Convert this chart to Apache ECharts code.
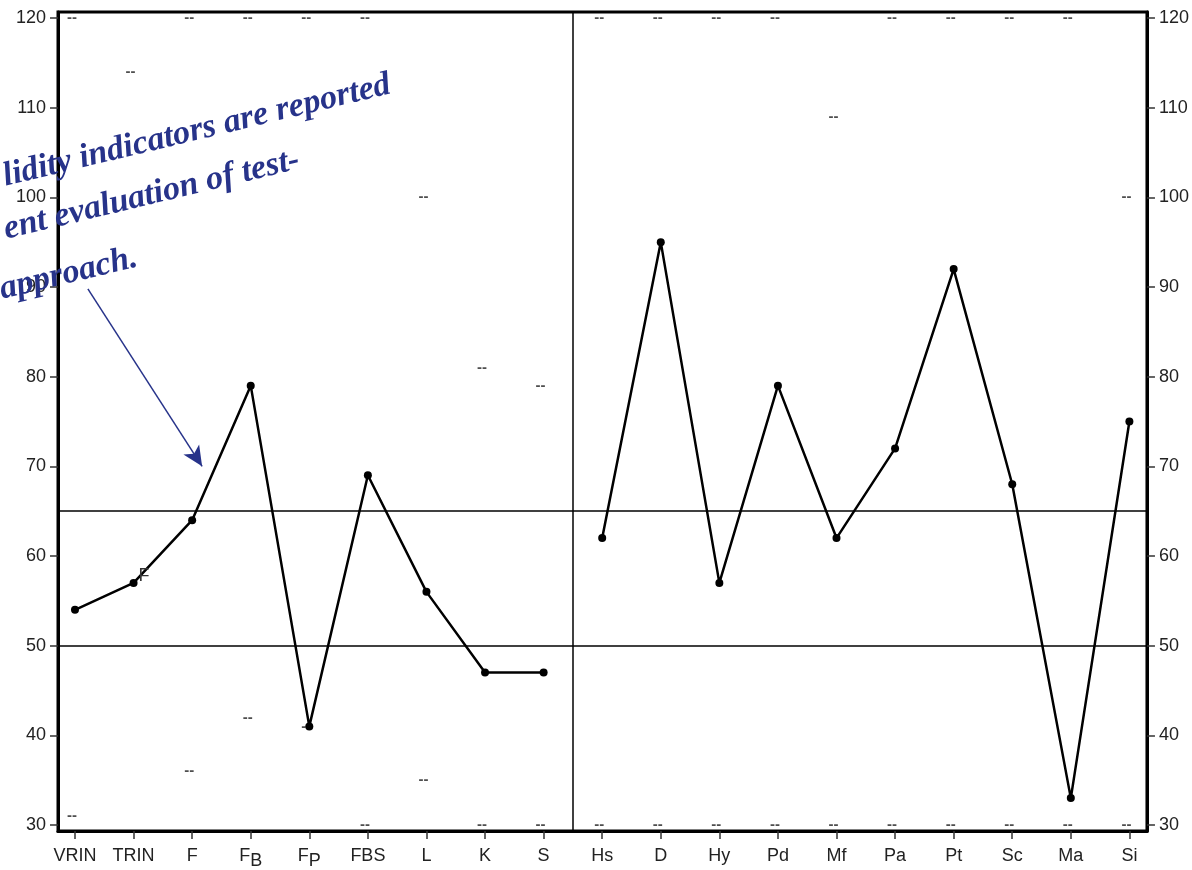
<!DOCTYPE html>
<html><head><meta charset="utf-8">
<script src="https://cdn.jsdelivr.net/npm/echarts@6/dist/echarts.min.js"></script>
<style>html,body{margin:0;padding:0;background:#fff}#c{width:1192px;height:870px}</style>
</head><body><div id="c"></div>
<script>
// ---- data ----
const categories = ['VRIN','TRIN','F','FB','FP','FBS','L','K','S','Hs','D','Hy','Pd','Mf','Pa','Pt','Sc','Ma','Si'];
const subscriptLabels = { FB: ['F','B'], FP: ['F','P'] };
const validityScales = ['VRIN','TRIN','F','FB','FP','FBS','L','K','S'];
const validityScores = [54, 57, 64, 79, 41, 69, 56, 47, 47];
const clinicalScales = ['Hs','D','Hy','Pd','Mf','Pa','Pt','Sc','Ma','Si'];
const clinicalScores = [62, 95, 57, 79, 62, 72, 92, 68, 33, 75];
const maxMarks = [120, 114, 120, 120, 120, 120, 100, 81, 79, 120, 120, 120, 120, 109, 120, 120, 120, 120, 100];
const minMarks = [31, null, 36, 42, 41, 30, 35, 30, 30, 30, 30, 30, 30, 30, 30, 30, 30, 30, 30];
const yTicks = [30, 40, 50, 60, 70, 80, 90, 100, 110, 120];
const referenceLines = [50, 65];
const trinDirection = 'F';
const noteLines = ['lidity indicators are reported', 'ent evaluation of test-', 'approach.'];

// ---- build ----
const idx = name => categories.indexOf(name);
const validityData = validityScales.map((s, i) => {
  const d = { value: [idx(s), validityScores[i]] };
  if (s === 'TRIN') d.label = { show: true, formatter: trinDirection, position: 'right', offset: [-4, -7], color: '#333', fontSize: 18, fontFamily: 'Liberation Sans' };
  return d;
});
const clinicalData = clinicalScales.map((s, i) => [idx(s), clinicalScores[i]]);
const dashData = [];
categories.forEach((c, i) => {
  if (maxMarks[i] != null) dashData.push([i, maxMarks[i]]);
  if (minMarks[i] != null) dashData.push([i, minMarks[i]]);
});
const catIndices = categories.map((c, i) => i);

const chart = echarts.init(document.getElementById('c'), null, { renderer: 'canvas' });
const font = 'Liberation Sans';
const yAxisCommon = {
  type: 'value', min: 29.333, max: 120.667,
  splitLine: { show: false },
  axisLine: { show: true, onZero: false, lineStyle: { color: '#000', width: 3 } },
  axisTick: { show: true, length: 8, lineStyle: { color: '#333', width: 1.5 }, customValues: yTicks },
  axisLabel: { customValues: yTicks, color: '#222', fontSize: 18, fontFamily: font, margin: 12 }
};
const option = {
  animation: false,
  backgroundColor: '#fff',
  grid: { left: 58, right: 45, top: 12, bottom: 36, show: true, borderColor: '#000', borderWidth: 3 },
  xAxis: {
    type: 'value', min: -0.29, max: 18.3,
    splitLine: { show: false },
    axisLine: { show: true, onZero: false, lineStyle: { color: '#000', width: 3 } },
    axisTick: { show: true, length: 8, lineStyle: { color: '#333', width: 1.5 }, customValues: catIndices },
    axisLabel: {
      customValues: catIndices, color: '#222', fontSize: 18, fontFamily: font, margin: 16,
      formatter: v => {
        const c = categories[Math.round(v)];
        if (subscriptLabels[c]) return '{m|' + subscriptLabels[c][0] + '}{s|' + subscriptLabels[c][1] + '}';
        return c;
      },
      rich: {
        m: { fontSize: 18, fontFamily: font, color: '#222', padding: [0, 0, 5, 0] },
        s: { fontSize: 18, fontFamily: font, color: '#222', padding: [5, 0, 0, 0] }
      }
    }
  },
  yAxis: [
    Object.assign({ position: 'left' }, yAxisCommon),
    Object.assign({ position: 'right' }, yAxisCommon)
  ],
  graphic: noteLines.map((t, i) => {
    const anchors = [[394, 101], [303, 176], [141, 274]];
    return {
      type: 'text', x: anchors[i][0], y: anchors[i][1], rotation: 13.5 * Math.PI / 180,
      style: { text: t, fill: '#27338a', font: 'italic bold 34px "Liberation Serif"', align: 'right', verticalAlign: 'bottom' },
      z: 100
    };
  }),
  series: [
    {
      type: 'scatter', data: dashData, symbolSize: 1, itemStyle: { color: 'rgba(0,0,0,0)' }, silent: true,
      label: { show: true, formatter: '--', position: 'inside', offset: [-3, 0], color: '#222', fontSize: 15, fontWeight: 'bold', fontFamily: font },
      z: 1
    },
    {
      type: 'line', data: validityData, symbol: 'circle', symbolSize: 8,
      lineStyle: { color: '#000', width: 2.5 }, itemStyle: { color: '#000' }, silent: true, z: 5,
      markLine: {
        silent: true, symbol: ['none', 'arrow'], symbolSize: [14, 20],
        lineStyle: { color: '#27338a', width: 1.5, type: 'solid' }, label: { show: false },
        data: [[{ coord: [0.22, 89.8] }, { coord: [2.17, 70] }]]
      }
    },
    {
      type: 'line', data: clinicalData, symbol: 'circle', symbolSize: 8,
      lineStyle: { color: '#000', width: 2.5 }, itemStyle: { color: '#000' }, silent: true, z: 5,
      markLine: {
        silent: true, symbol: 'none', label: { show: false },
        lineStyle: { color: '#000', width: 1.5, type: 'solid' },
        data: referenceLines.map(v => ({ yAxis: v })).concat([{ xAxis: 8.5 }])
      }
    }
  ]
};
chart.setOption(option);
</script></body></html>
